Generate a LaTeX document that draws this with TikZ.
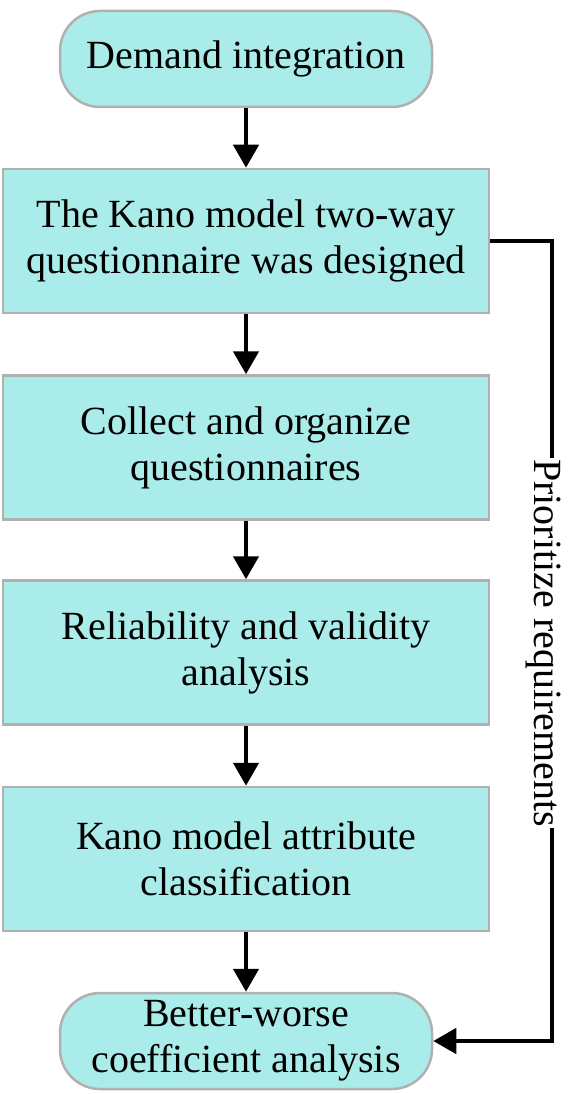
\documentclass[tikz,border=0pt]{standalone}
\usepackage{fontspec}
\setmainfont{Liberation Serif}
\usetikzlibrary{arrows.meta}
\definecolor{boxfill}{HTML}{AAECE9}
\definecolor{boxline}{HTML}{B0B0B0}
\begin{document}
\begin{tikzpicture}[x=1pt,y=-1pt,
  font=\fontsize{40}{46}\selectfont,
  stepbox/.style={draw=boxline,line width=2.5pt,fill=boxfill,minimum width=486pt,minimum height=144pt,align=center,inner sep=0pt,text=black},
  termbox/.style={draw=boxline,line width=2.5pt,fill=boxfill,minimum width=372pt,minimum height=96pt,rounded corners=40pt,align=center,inner sep=0pt,text=black},
  link/.style={line width=4.5pt,-{Triangle[length=23pt,width=25pt]}}]
\useasboundingbox (0,0) rectangle (570,1094);
\node[termbox] (n1) at (246,59) {Demand integration};
\node[stepbox] (n2) at (246,241) {The Kano model two-way\\questionnaire was designed};
\node[stepbox] (n3) at (246,447.5) {Collect and organize\\questionnaires};
\node[stepbox] (n4) at (246,652.5) {Reliability and validity\\analysis};
\node[stepbox] (n5) at (246,859) {Kano model attribute\\classification};
\node[termbox] (n6) at (246,1041) {Better-worse\\coefficient analysis};
\draw[link] (n1) -- (n2);
\draw[link] (n2) -- (n3);
\draw[link] (n3) -- (n4);
\draw[link] (n4) -- (n5);
\draw[link] (n5) -- (n6);
\coordinate (c1) at (552,241);
\coordinate (c2) at (552,1041);
\draw[link] (n2.east) -- (c1) -- (c2) -- (n6.east);
\node[fill=white,rotate=-90,anchor=base,inner xsep=1pt,inner ysep=0pt,text height=30pt,text depth=9pt] (lab) at (534,643) {Prioritize requirements};
\end{tikzpicture}
\end{document}
